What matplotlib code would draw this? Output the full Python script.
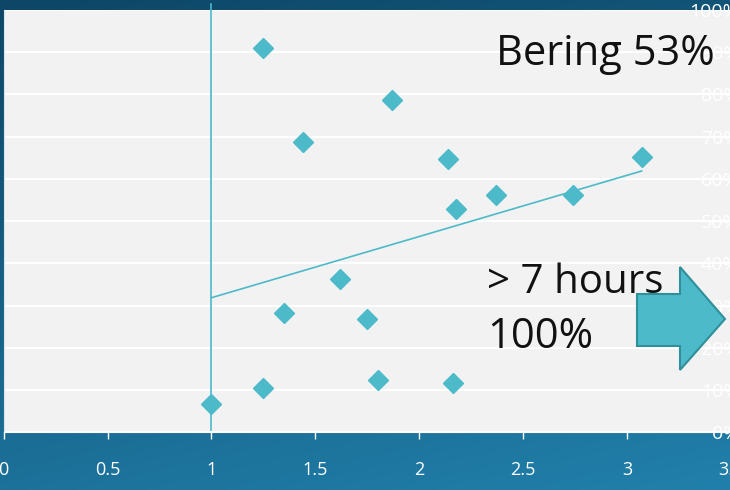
import matplotlib.pyplot as plt
import numpy as np
from matplotlib.patches import Polygon

plt.rcParams['font.family'] = ['Open Sans', 'DejaVu Sans']

# sleep hours vs. share of responses
hours = [1.25, 1.87, 1.44, 2.14, 3.07, 2.37, 2.74, 2.175, 1.62, 1.35, 1.75, 1.80, 2.16, 1.25, 1.0]
share = [91.0, 78.8, 68.7, 64.7, 65.2, 56.2, 56.2, 52.9, 36.3, 28.2, 26.8, 12.4, 11.7, 10.5, 6.7]

x_ticks = [0, 0.5, 1, 1.5, 2, 2.5, 3, 3.5]
x_tick_labels = ['0', '0.5', '1', '1.5', '2', '2.5', '3', '3.5']
y_ticks = list(range(0, 101, 10))
y_tick_labels = [f'{v}%' for v in y_ticks]
cutoff_hours = 1.0

W, H = 730, 490
teal = '#4cbac8'

fig = plt.figure(figsize=(W / 100, H / 100), dpi=100)

# dark blue backdrop behind the plot
bg = fig.add_axes([0, 0, 1, 1], zorder=-10)
gy, gx = np.mgrid[0:1:200j, 0:1:300j]
t = 0.75 * gy + 0.25 * gx
top = np.array([0x0d, 0x46, 0x66]) / 255
bottom = np.array([0x21, 0x80, 0xab]) / 255
img = top[None, None, :] * (1 - t[..., None]) + bottom[None, None, :] * t[..., None]
bg.imshow(img, aspect='auto', extent=[0, 1, 0, 1], origin='upper')
bg.axis('off')

ax = fig.add_axes([3.7 / W, 57.7 / H, (731 - 3.7) / W, (432.3 - 10) / H])
ax.set_facecolor('#f2f2f2')
ax.set_xlim(0, 3.5)
ax.set_ylim(0, 100)

ax.grid(axis='y', color='white', linewidth=1.5)
ax.set_axisbelow(True)

ax.plot(hours, share, linestyle='none', marker='D', markersize=10.5,
        color=teal, zorder=3)

# least-squares trend line across the observed range
slope, intercept = np.polyfit(hours, share, 1)
fit_x = np.array([min(hours), max(hours)])
ax.plot(fit_x, slope * fit_x + intercept, color=teal, linewidth=1.2, zorder=2)

ax.plot([cutoff_hours, cutoff_hours], [0.5, 101.5], color=teal,
        linewidth=1.2, clip_on=False, zorder=2)

ax.set_xticks(x_ticks)
ax.set_xticklabels(x_tick_labels)
ax.tick_params(axis='x', colors='white', length=5, width=1, pad=16, labelsize=13)

ax.yaxis.tick_right()
ax.set_yticks(y_ticks)
ax.set_yticklabels(y_tick_labels, ha='right')
ax.tick_params(axis='y', colors='white', length=0, pad=6, labelsize=14)

for side in ['top', 'right']:
    ax.spines[side].set_visible(False)
ax.spines['bottom'].set_color('white')
ax.spines['left'].set_color('#d8e4ea')

fig.text(496 / W, 1 - 65 / H, 'Bering 53%', fontsize=30, color='#111111', va='baseline')
fig.text(487 / W, 1 - 293 / H, '> 7 hours', fontsize=29, color='#111111', va='baseline')
fig.text(487 / W, 1 - 348 / H, '100%', fontsize=30, color='#111111', va='baseline')

# block arrow pointing right
arrow_px = [(637, 294), (680, 294), (680, 267), (725, 319),
            (680, 370), (680, 346), (637, 346)]
arrow = Polygon([(x / W, 1 - y / H) for x, y in arrow_px], closed=True,
                transform=fig.transFigure, facecolor=teal, edgecolor='#2f8f9b',
                linewidth=1.5, zorder=5)
fig.patches.append(arrow)

fig.savefig('out.png', dpi=100)
